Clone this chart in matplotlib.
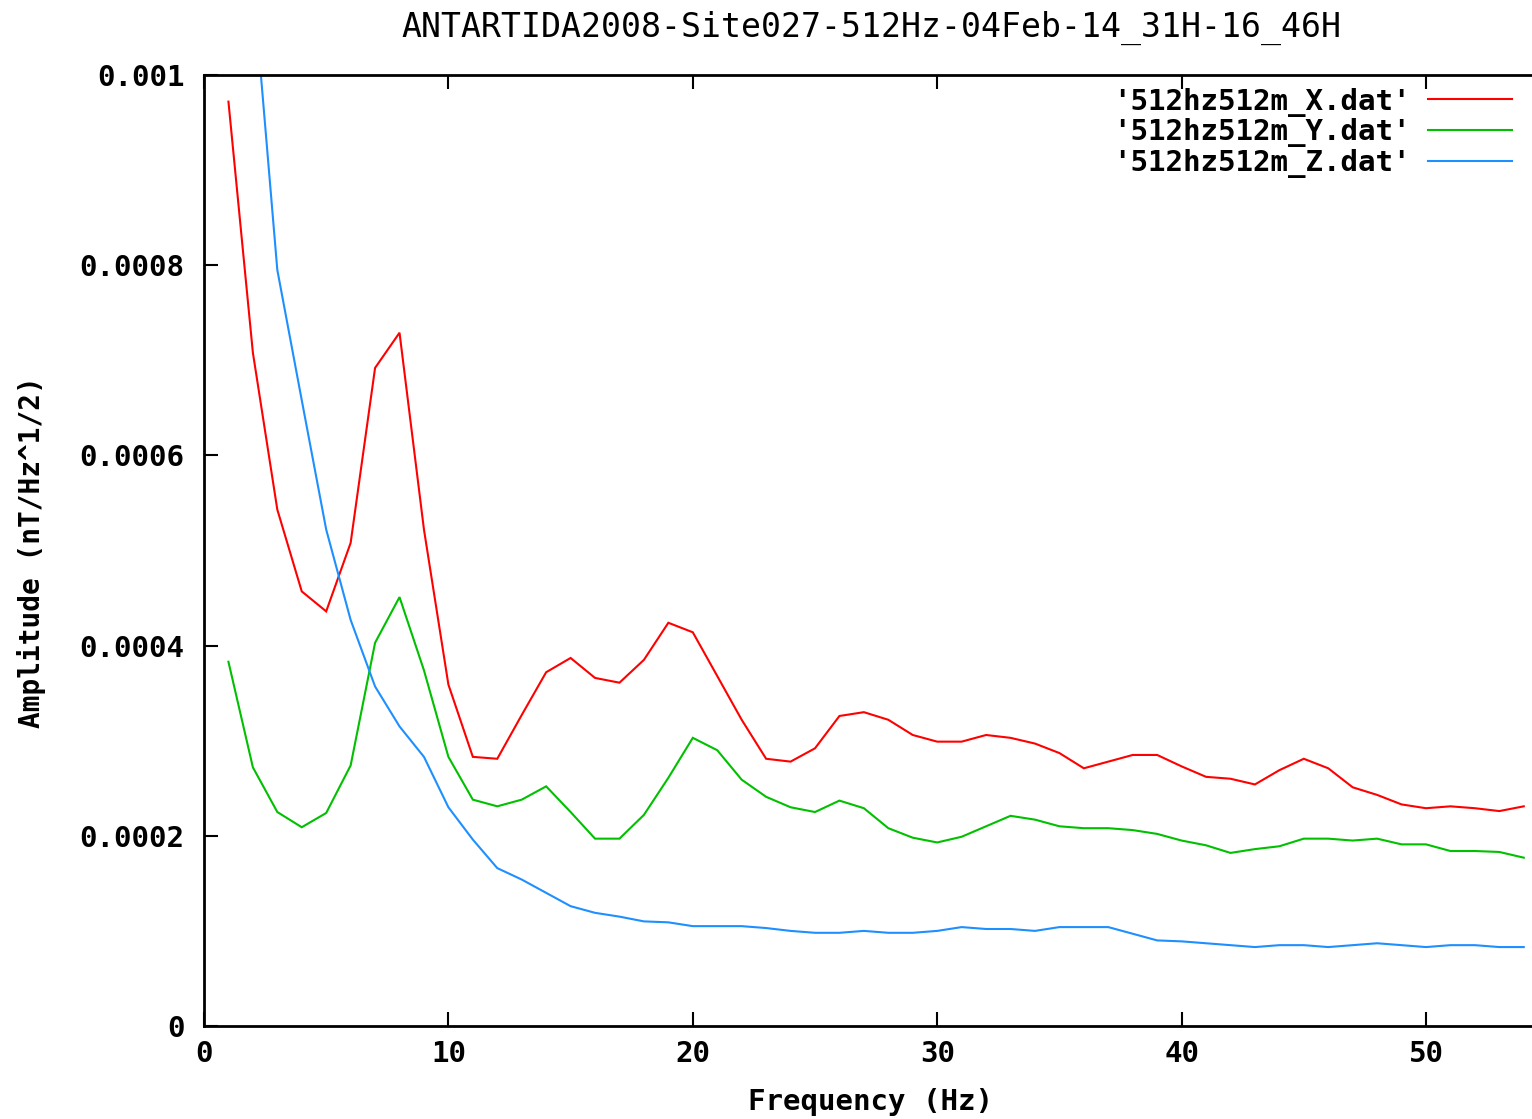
import matplotlib
matplotlib.use("Agg")
import matplotlib.pyplot as plt
from matplotlib.ticker import FixedLocator, FixedFormatter

# Spectral amplitude of the three magnetometer components, 1 Hz bins
freq = list(range(1, 55))

amp_x = [0.000972, 0.000708, 0.000543, 0.000457, 0.000436, 0.000508, 0.000692, 0.000729,
         0.000522, 0.000359, 0.000283, 0.000281, 0.000327, 0.000372, 0.000387, 0.000366,
         0.000361, 0.000385, 0.000424, 0.000414, 0.000368, 0.000322, 0.000281, 0.000278,
         0.000292, 0.000326, 0.000330, 0.000322, 0.000306, 0.000299, 0.000299, 0.000306,
         0.000303, 0.000297, 0.000287, 0.000271, 0.000278, 0.000285, 0.000285, 0.000273,
         0.000262, 0.000260, 0.000254, 0.000269, 0.000281, 0.000271, 0.000251, 0.000243,
         0.000233, 0.000229, 0.000231, 0.000229, 0.000226, 0.000231]

amp_y = [0.000383, 0.000272, 0.000225, 0.000209, 0.000224, 0.000274, 0.000403, 0.000451,
         0.000374, 0.000283, 0.000238, 0.000231, 0.000238, 0.000252, 0.000225, 0.000197,
         0.000197, 0.000222, 0.000261, 0.000303, 0.000290, 0.000259, 0.000241, 0.000230,
         0.000225, 0.000237, 0.000229, 0.000208, 0.000198, 0.000193, 0.000199, 0.000210,
         0.000221, 0.000217, 0.000210, 0.000208, 0.000208, 0.000206, 0.000202, 0.000195,
         0.000190, 0.000182, 0.000186, 0.000189, 0.000197, 0.000197, 0.000195, 0.000197,
         0.000191, 0.000191, 0.000184, 0.000184, 0.000183, 0.000177]

amp_z = [0.00140, 0.00110, 0.000795, 0.000658, 0.000522, 0.000427, 0.000357, 0.000315,
         0.000283, 0.000230, 0.000196, 0.000166, 0.000154, 0.000140, 0.000126, 0.000119,
         0.000115, 0.000110, 0.000109, 0.000105, 0.000105, 0.000105, 0.000103, 0.000100,
         0.000098, 0.000098, 0.000100, 0.000098, 0.000098, 0.000100, 0.000104, 0.000102,
         0.000102, 0.000100, 0.000104, 0.000104, 0.000104, 0.000097, 0.000090, 0.000089,
         0.000087, 0.000085, 0.000083, 0.000085, 0.000085, 0.000083, 0.000085, 0.000087,
         0.000085, 0.000083, 0.000085, 0.000085, 0.000083, 0.000083]

series_labels = ["'512hz512m_X.dat'", "'512hz512m_Y.dat'", "'512hz512m_Z.dat'"]
series_colors = ["#ff0000", "#00c000", "#1e8fff"]

x_ticks = [0, 10, 20, 30, 40, 50]
y_ticks = [0, 0.0002, 0.0004, 0.0006, 0.0008, 0.001]
y_tick_labels = ["0", "0.0002", "0.0004", "0.0006", "0.0008", "0.001"]

title = "ANTARTIDA2008-Site027-512Hz-04Feb-14_31H-16_46H"

W, H = 1532, 1119
fig = plt.figure(figsize=(W / 100, H / 100), dpi=100)
ax = fig.add_axes([204 / W, (H - 1026) / H, (W - 204) / W, 951 / H])

mono = "DejaVu Sans Mono"
for vals, lab, col in zip([amp_x, amp_y, amp_z], series_labels, series_colors):
    ax.plot(freq, vals, color=col, lw=1.5, label=lab, solid_joinstyle="miter")

ax.set_xlim(0, (W - 204) / 24.44)
ax.set_ylim(0, 0.001)

ax.xaxis.set_major_locator(FixedLocator(x_ticks))
ax.yaxis.set_major_locator(FixedLocator(y_ticks))
ax.yaxis.set_major_formatter(FixedFormatter(y_tick_labels))

ax.tick_params(axis="both", direction="in", length=10, width=1.5, colors="black",
               labelsize=21)
ax.tick_params(axis="x", top=True, pad=10)
ax.tick_params(axis="y", right=False, pad=14)
for t in ax.get_xticklabels() + ax.get_yticklabels():
    t.set_fontfamily(mono)
    t.set_fontweight("bold")

for side in ("left", "top", "bottom"):
    ax.spines[side].set_linewidth(2)
    ax.spines[side].set_color("black")
ax.spines["right"].set_visible(False)

ax.set_xlabel("Frequency (Hz)", fontfamily=mono, fontweight="bold", fontsize=21)
ax.xaxis.set_label_coords((870 - 204) / (W - 204), -(1088 - 1026) / 951)
ax.set_ylabel("Amplitude (nT/Hz^1/2)", fontfamily=mono, fontweight="bold", fontsize=20)
ax.yaxis.set_label_coords(-(204 - 46) / (W - 204), (1026 - 552) / 951)

fig.text(871 / W, 1 - 28 / H, title, ha="center", va="center", fontfamily=mono,
         fontsize=23.9)

leg = ax.legend(loc="upper right", bbox_to_anchor=((1524 - 204) / (W - 204), 1 - 1 / 951),
                frameon=False, markerfirst=False, handlelength=2.9, handletextpad=0.6,
                labelspacing=0.06, borderaxespad=0,
                prop={"family": mono, "weight": "bold", "size": 21})

fig.savefig("out.png", dpi=100, facecolor="white")
